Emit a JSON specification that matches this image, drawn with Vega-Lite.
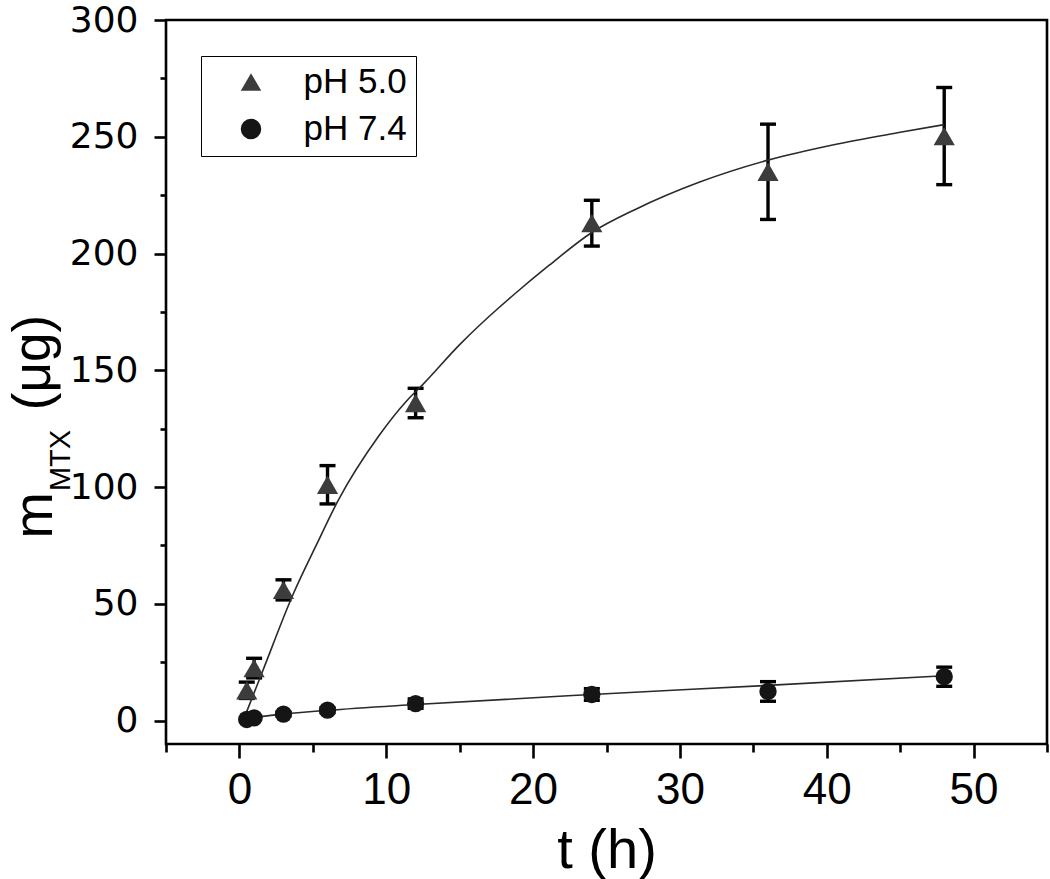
{
  "$schema": "https://vega.github.io/schema/vega-lite/v6.json",
  "width": 881,
  "height": 724,
  "autosize": {"type": "none"},
  "padding": {"left": 166, "top": 20, "right": 3, "bottom": 135},
  "background": "white",
  "config": {
    "view": {"stroke": "black", "strokeWidth": 2.6},
    "axis": {"grid": false, "domain": false, "tickColor": "black", "tickWidth": 2.6, "labelColor": "black", "titleColor": "black", "titleFontWeight": "normal", "titleFont": "Liberation Sans", "labelFont": "Liberation Sans"}
  },
  "datasets": {
    "points": [
      {"series": "pH 5.0", "t": 0.5, "m": 13, "err": 3.5},
      {"series": "pH 5.0", "t": 1, "m": 22.5, "err": 4.2},
      {"series": "pH 5.0", "t": 3, "m": 56, "err": 4.3},
      {"series": "pH 5.0", "t": 6, "m": 101, "err": 8.2},
      {"series": "pH 5.0", "t": 12, "m": 136, "err": 6.3},
      {"series": "pH 5.0", "t": 24, "m": 213, "err": 9.8},
      {"series": "pH 5.0", "t": 36, "m": 235, "err": 20.4},
      {"series": "pH 5.0", "t": 48, "m": 250.3, "err": 20.8},
      {"series": "pH 7.4", "t": 0.5, "m": 0.5, "err": 0.5},
      {"series": "pH 7.4", "t": 1, "m": 1.2, "err": 0.6},
      {"series": "pH 7.4", "t": 3, "m": 2.8, "err": 0.8},
      {"series": "pH 7.4", "t": 6, "m": 4.5, "err": 1},
      {"series": "pH 7.4", "t": 12, "m": 7.3, "err": 2},
      {"series": "pH 7.4", "t": 24, "m": 11.2, "err": 2.5},
      {"series": "pH 7.4", "t": 36, "m": 12.5, "err": 4.2},
      {"series": "pH 7.4", "t": 48, "m": 18.8, "err": 4.1}
    ],
    "curves": [
      {"series": "pH 5.0", "t": 0.35, "m": 1.5},
      {"series": "pH 5.0", "t": 1.6, "m": 21.5},
      {"series": "pH 5.0", "t": 3.65, "m": 54},
      {"series": "pH 5.0", "t": 5.3, "m": 76},
      {"series": "pH 5.0", "t": 6.7, "m": 94},
      {"series": "pH 5.0", "t": 9.5, "m": 122},
      {"series": "pH 5.0", "t": 11.4, "m": 137},
      {"series": "pH 5.0", "t": 12.5, "m": 144},
      {"series": "pH 5.0", "t": 15, "m": 161},
      {"series": "pH 5.0", "t": 17.7, "m": 177},
      {"series": "pH 5.0", "t": 18.8, "m": 183},
      {"series": "pH 5.0", "t": 21.1, "m": 195},
      {"series": "pH 5.0", "t": 24, "m": 209},
      {"series": "pH 5.0", "t": 27, "m": 219},
      {"series": "pH 5.0", "t": 31.3, "m": 230.5},
      {"series": "pH 5.0", "t": 36, "m": 240},
      {"series": "pH 5.0", "t": 40.4, "m": 246.5},
      {"series": "pH 5.0", "t": 44.9, "m": 251.8},
      {"series": "pH 5.0", "t": 48, "m": 255.2},
      {"series": "pH 7.4", "t": 0.4, "m": 1.0},
      {"series": "pH 7.4", "t": 3, "m": 2.8},
      {"series": "pH 7.4", "t": 6, "m": 4.4},
      {"series": "pH 7.4", "t": 12, "m": 6.9},
      {"series": "pH 7.4", "t": 24, "m": 11.2},
      {"series": "pH 7.4", "t": 36, "m": 15.1},
      {"series": "pH 7.4", "t": 48, "m": 19.2}
    ]
  },
  "layer": [
    {
      "data": {"name": "points"},
      "mark": {"type": "errorbar", "ticks": {"color": "black", "thickness": 3.4, "opacity": 1}, "rule": {"color": "black", "strokeWidth": 3.4, "opacity": 1}, "size": 16, "color": "black"},
      "encoding": {
        "x": {"field": "t", "type": "quantitative", "scale": {"domain": [-5, 55], "nice": false, "zero": false},
          "axis": {"orient": "bottom", "values": [0, 10, 20, 30, 40, 50], "tickSize": 14, "labelFontSize": 44, "labelPadding": 10, "labelFlush": false, "labelOverlap": false, "title": "t (h)", "titleFontSize": 56, "titleY": 123, "titleBaseline": "alphabetic"}},
        "y": {"field": "m", "type": "quantitative", "scale": {"domain": [-10, 300], "nice": false, "zero": false},
          "axis": {"orient": "left", "values": [0, 50, 100, 150, 200, 250, 300], "tickSize": 12, "labelFont": "DejaVu Sans", "labelFontSize": 36, "labelPadding": 16, "labelFlush": false, "labelOverlap": false, "title": "m", "titleFontSize": 56, "titleAngle": 270, "titleX": -115, "titleY": 495, "titleAlign": "center", "titleBaseline": "alphabetic"}},
        "yError": {"field": "err"}
      }
    },
    {
      "data": {"name": "curves"},
      "mark": {"type": "line", "color": "#2a2a2a", "strokeWidth": 1.6, "interpolate": "monotone"},
      "encoding": {
        "x": {"field": "t", "type": "quantitative",
          "axis": {"orient": "bottom", "values": [-5, 5, 15, 25, 35, 45, 55], "tickSize": 8, "labels": false, "title": null}},
        "y": {"field": "m", "type": "quantitative",
          "axis": {"orient": "left", "values": [25, 75, 125, 175, 225, 275], "tickSize": 6, "labels": false, "title": "MTX", "titleFontSize": 29, "titleAngle": 270, "titleX": -97, "titleY": 440, "titleAlign": "center", "titleBaseline": "alphabetic"}},
        "detail": {"field": "series"}
      }
    },
    {
      "data": {"name": "points"},
      "transform": [{"filter": "datum.series === 'pH 5.0'"}],
      "mark": {"type": "point", "filled": true, "opacity": 1, "size": 450, "strokeWidth": 0},
      "encoding": {
        "x": {"field": "t", "type": "quantitative", "axis": null},
        "y": {"field": "m", "type": "quantitative",
          "axis": {"orient": "left", "labels": false, "ticks": false, "title": "(μg)", "titleFontSize": 53, "titleAngle": 270, "titleX": -117, "titleY": 342, "titleAlign": "center", "titleBaseline": "alphabetic"}},
        "color": {"field": "series", "type": "nominal", "scale": {"domain": ["pH 5.0", "pH 7.4"], "range": ["#3c3c3c", "#151515"]},
          "legend": {"orient": "none", "legendX": 35, "legendY": 36, "title": null, "labelFont": "Liberation Sans", "labelFontSize": 35, "labelColor": "black", "symbolSize": 420, "strokeColor": "black", "padding": 8.5, "symbolOffset": 24, "labelOffset": 35, "rowPadding": 11, "fillColor": "white"}},
        "shape": {"field": "series", "type": "nominal", "scale": {"domain": ["pH 5.0", "pH 7.4"], "range": ["triangle-up", "circle"]},
          "legend": {"orient": "none", "legendX": 35, "legendY": 36, "title": null, "labelFont": "Liberation Sans", "labelFontSize": 35, "labelColor": "black", "symbolSize": 420, "strokeColor": "black", "padding": 8.5, "symbolOffset": 24, "labelOffset": 35, "rowPadding": 11, "fillColor": "white"}}
      }
    },
    {
      "data": {"name": "points"},
      "transform": [{"filter": "datum.series === 'pH 7.4'"}],
      "mark": {"type": "point", "filled": true, "opacity": 1, "size": 300, "strokeWidth": 0},
      "encoding": {
        "x": {"field": "t", "type": "quantitative", "axis": null},
        "y": {"field": "m", "type": "quantitative", "axis": null},
        "color": {"field": "series", "type": "nominal"},
        "shape": {"field": "series", "type": "nominal"}
      }
    }
  ],
  "resolve": {"axis": {"x": "independent", "y": "independent"}}
}
